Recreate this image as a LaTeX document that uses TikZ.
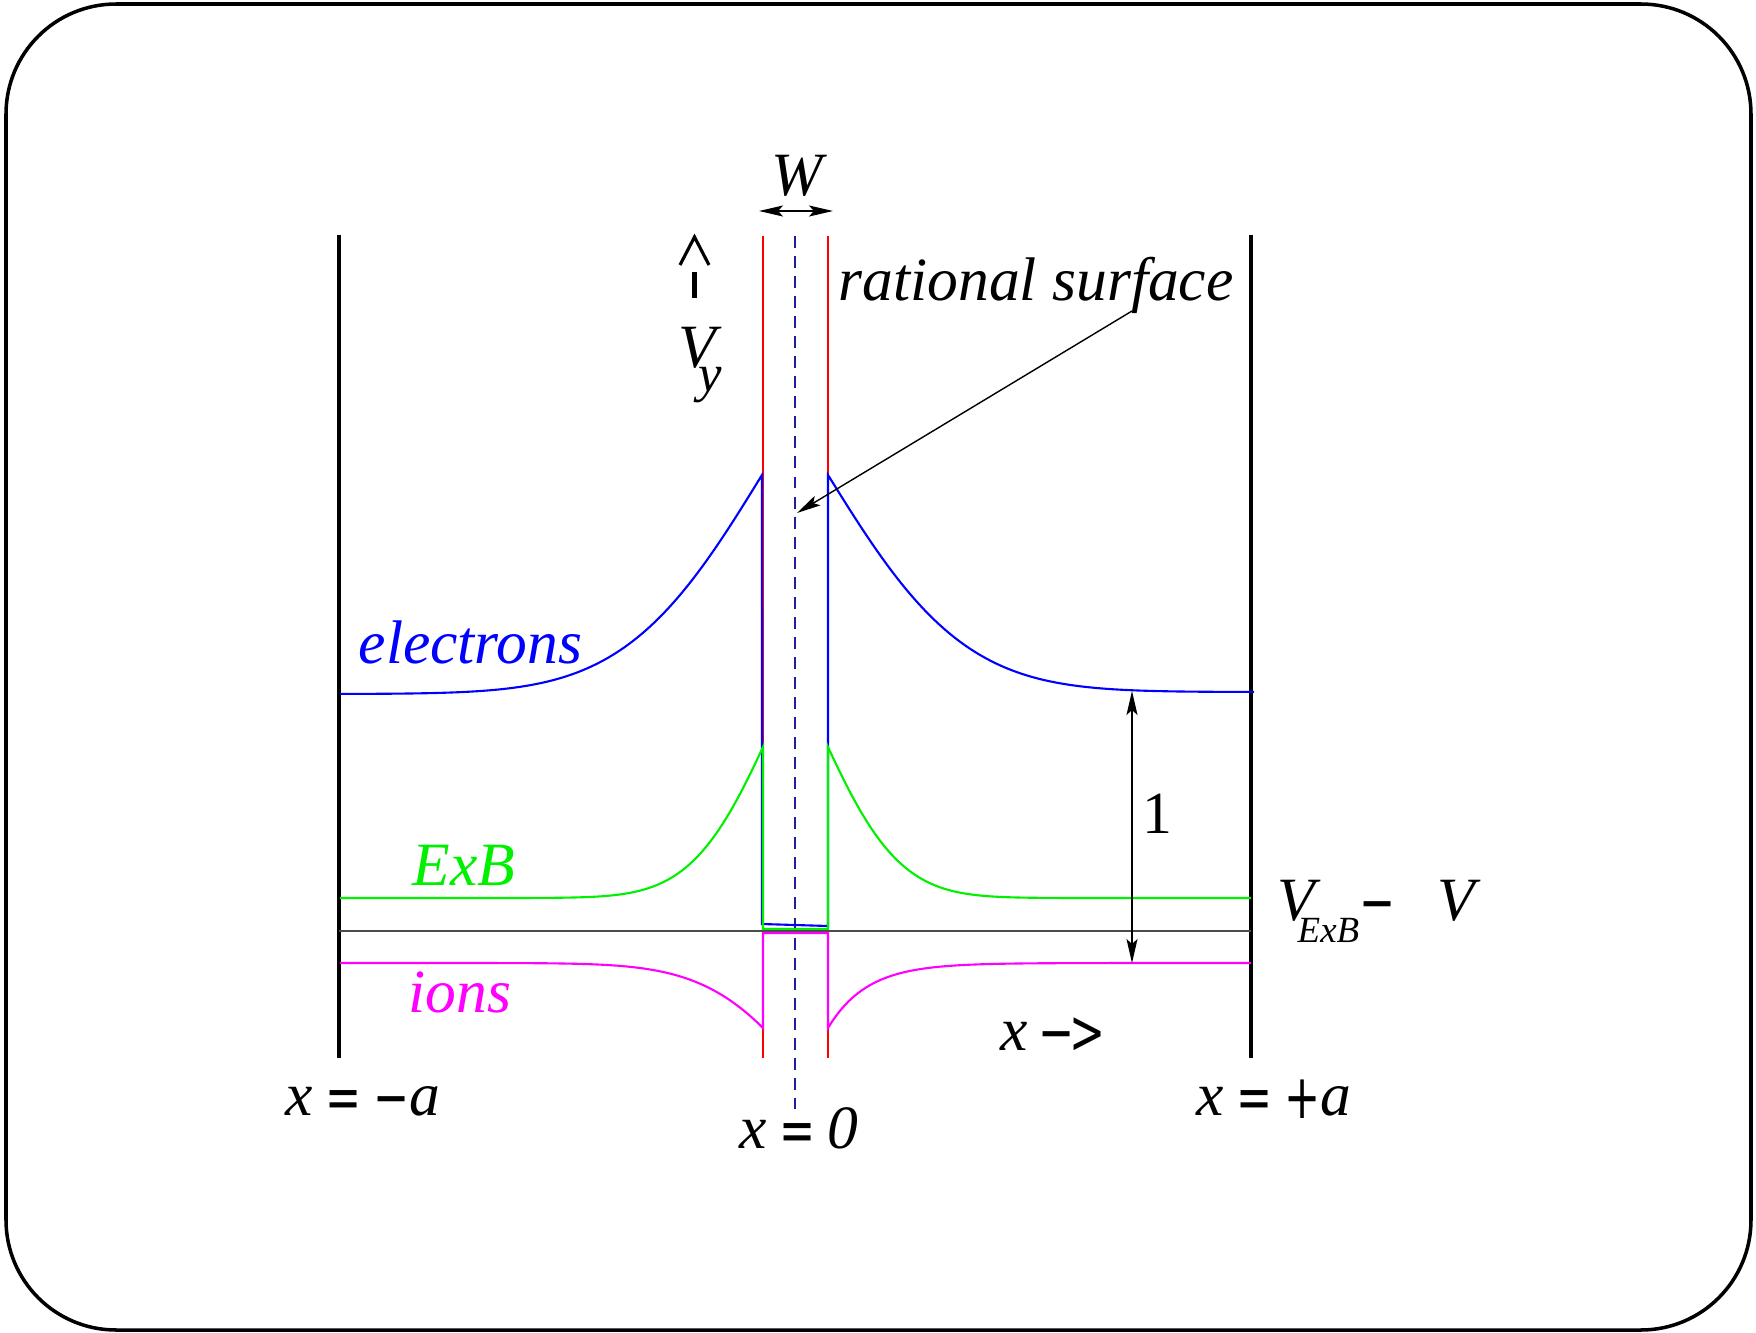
\documentclass[tikz,border=0pt]{standalone}
\usepackage{fontspec}
\usepackage{graphicx}
\setmainfont{Liberation Serif}
\newfontfamily\symbfont{DejaVu Sans}
\usetikzlibrary{arrows.meta}
\definecolor{dashblue}{RGB}{30,30,150}
\definecolor{plotgreen}{RGB}{0,240,0}
\definecolor{plotmagenta}{RGB}{255,0,255}
\newcommand{\heavy}[1]{\raisebox{-1pt}{\scalebox{0.7}[1]{\symbfont\upshape #1}}}

\begin{document}
\begin{tikzpicture}[x=0.01cm,y=-0.01cm,
  wall/.style={line width=1.2pt},
  curve/.style={line width=0.6pt},
  lbl/.style={inner sep=0pt,anchor=base west,font=\fontsize{17.5}{20}\selectfont\itshape},
  dim/.style={{Stealth[length=2.4mm,width=1.1mm,inset=0.5mm]}-{Stealth[length=2.4mm,width=1.1mm,inset=0.5mm]},line width=0.4pt}
  ]
  \useasboundingbox (0,0) rectangle (1756,1333);
  \draw[line width=1pt,rounded corners=1.1cm] (6,4) rectangle (1751,1330);

  % walls and the layer
  \draw[wall] (339,235) -- (339,1058);
  \draw[wall] (1251,235) -- (1251,1058);
  \draw[red,line width=0.6pt] (763,236) -- (763,1058);
  \draw[red,line width=0.6pt] (828,236) -- (828,1058);
  \draw[dashblue,line width=0.6pt,dash pattern=on 3.4pt off 2.3pt] (795,236) -- (795,1109);

  % electrons
  \draw[blue,curve] plot[domain=4.22:0,samples=100] ({762-100*\x},{694-219*exp(-\x/1.35-\x*\x/3.6)})
    -- (762,924) -- (828,926) -- (828,475)
    -- plot[domain=0:4.26,samples=100] ({828+100*\x},{692-217*exp(-\x/1.35-\x*\x/3.6)});
  % ExB
  \draw[plotgreen,curve] plot[domain=4.23:0,samples=100] ({763-100*\x},{898-151*exp(-\x/0.7-\x*\x/1.2)})
    -- (763,929) -- (828,929) -- (828,747)
    -- plot[domain=0:4.23,samples=100] ({828+100*\x},{898-151*exp(-\x/0.7-\x*\x/1.2)});
  \draw[black!70,line width=0.5pt] (339,931) -- (1251,931);
  % ions
  \draw[plotmagenta,curve] plot[domain=4.23:0,samples=100] ({763-100*\x},{963+65*exp(-\x/0.65-\x*\x/2.25)})
    -- (763,933) -- (828,933) -- (828,1028)
    -- plot[domain=0:4.23,samples=100] ({828+100*\x},{963+65*exp(-\x/0.39)});

  % up arrow beside V_y
  \draw[line width=0.9pt] (680,265) -- (694.5,237) -- (709,265);
  \draw[line width=1.3pt] (694.5,272) -- (694.5,298);

  % labels
  \node[lbl,anchor=base] (wlabel) at (797,195) {W};
  \node[lbl] (vy) at (678,367) {V\kern-5pt\raisebox{-7pt}{\fontsize{15}{15}\selectfont y}};
  \node[lbl] (ratsurf) at (838,300) {rational surface};
  \node[lbl,blue] (elec) at (358,663) {electrons};
  \node[lbl,plotgreen] (exb) at (412,885) {ExB};
  \node[lbl,plotmagenta] (ions) at (408,1012) {ions};
  \node[lbl,font=\fontsize{17}{20}\selectfont,anchor=base] (one) at (1157,833) {1};
  \node[lbl] (vexb) at (1277,920) {V\kern-5pt\raisebox{-6.5pt}{\fontsize{10.5}{11}\selectfont ExB}\heavy{−}\hspace{12pt}V};
  \node[lbl] (xarrow) at (1000,1050) {x\hspace{3pt}\heavy{−}\hspace{-1.5pt}\heavy{>}};
  \node[lbl] (xleft) at (285,1115) {x\hspace{3.5pt}\heavy{=}\hspace{3.5pt}\heavy{−}a};
  \node[lbl] (xright) at (1196,1115) {x\hspace{3.5pt}\heavy{=}\hspace{3.5pt}\heavy{+}a};
  \node[lbl] (xzero) at (739,1148) {x\hspace{3.5pt}\heavy{=}\hspace{3.5pt}0};

  % width and unit arrows
  \coordinate (wl) at (759,211);
  \coordinate (wr) at (833,211);
  \draw[dim] (wl) -- (wr);
  \coordinate (onetop) at (1132,691);
  \coordinate (onebot) at (1132,963);
  \draw[dim] (onetop) -- (onebot);
  \coordinate (rsstart) at (1132,311);
  \coordinate (rstip) at (797,513);
  \draw[-{Stealth[length=2.4mm,width=1.1mm,inset=0.5mm]},line width=0.4pt] (rsstart) -- (rstip);
\end{tikzpicture}
\end{document}
